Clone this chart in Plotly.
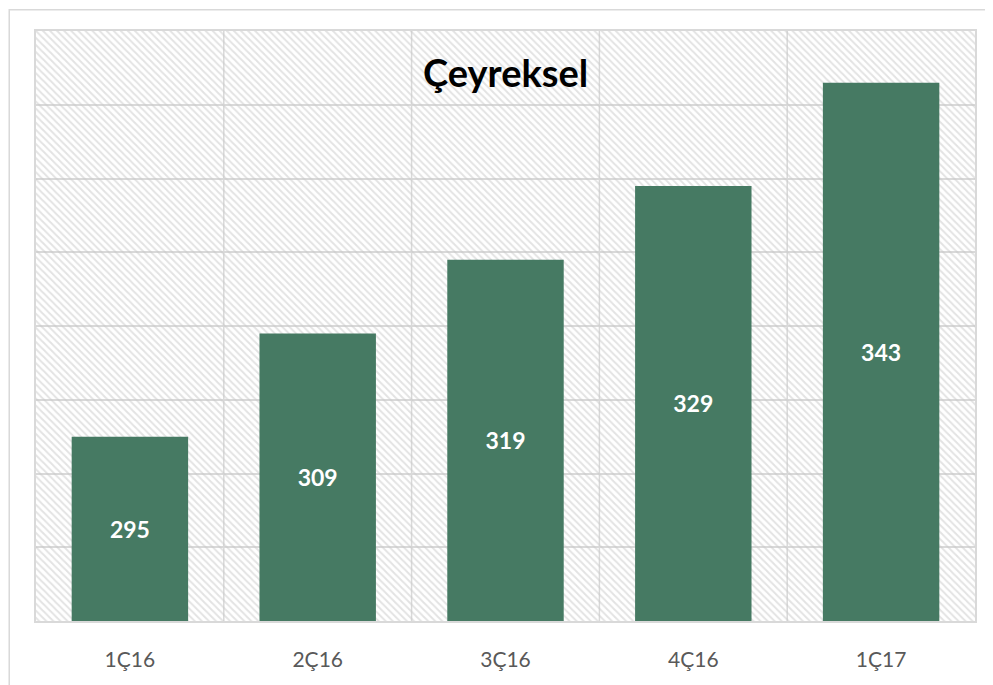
import plotly.graph_objects as go

# data
quarters = ['1Ç16', '2Ç16', '3Ç16', '4Ç16', '1Ç17']
values = [295, 309, 319, 329, 343]
y_min = 270
y_max = 350

bar_color = '#467A63'
grid_color = '#d9d9d9'

fig = go.Figure()

# hatched plot-area background (one full-width bar per category)
fig.add_trace(go.Bar(
    x=quarters,
    y=[y_max - y_min] * len(quarters),
    base=y_min,
    width=1,
    marker=dict(
        color='rgba(0,0,0,0)',
        line=dict(width=0),
        pattern=dict(shape='\\', fgcolor='#c8c8c8', bgcolor='rgba(0,0,0,0)',
                     size=5, solidity=0.4),
    ),
    hoverinfo='skip',
    showlegend=False,
))

# main bars
fig.add_trace(go.Bar(
    x=quarters,
    y=[v - y_min for v in values],
    base=y_min,
    width=0.62,
    marker=dict(color=bar_color, line=dict(width=0)),
    text=[str(v) for v in values],
    textposition='inside',
    insidetextanchor='middle',
    textfont=dict(family='Lato', size=23, color='white', weight='bold'),
    hovertemplate='%{x}: %{text}<extra></extra>',
    showlegend=False,
))

# vertical grid lines between categories
for i in range(len(quarters) - 1):
    fig.add_shape(type='line', xref='x', yref='y',
                  x0=i + 0.5, x1=i + 0.5, y0=y_min, y1=y_max,
                  line=dict(color=grid_color, width=1.5), layer='below')

# outer chart frame
fig.add_shape(type='rect', xref='paper', yref='paper',
              x0=-0.0285, x1=1.1, y0=-0.2, y1=1.036,
              line=dict(color='#d9d9d9', width=1.5), layer='below')

fig.add_annotation(
    text='<b>Çeyreksel</b>', xref='paper', yref='paper',
    x=0.5, y=0.93, yanchor='middle', showarrow=False,
    font=dict(family='Lato', size=38, color='black'),
)

fig.update_layout(
    width=993, height=685,
    margin=dict(l=28, r=26, t=23, b=72),
    barmode='overlay',
    plot_bgcolor='white',
    paper_bgcolor='white',
    xaxis=dict(
        showline=True, linecolor=grid_color, linewidth=1.5, mirror=True,
        showgrid=False, ticks='',
        tickfont=dict(family='Lato', size=21, color='#595959'),
        ticklabelstandoff=19,
    ),
    yaxis=dict(
        range=[y_min, y_max], dtick=10,
        showgrid=True, gridcolor=grid_color, gridwidth=1.5,
        showline=True, linecolor=grid_color, linewidth=1.5, mirror=True,
        showticklabels=False, ticks='', zeroline=False,
    ),
)

fig.write_html('out.html')
